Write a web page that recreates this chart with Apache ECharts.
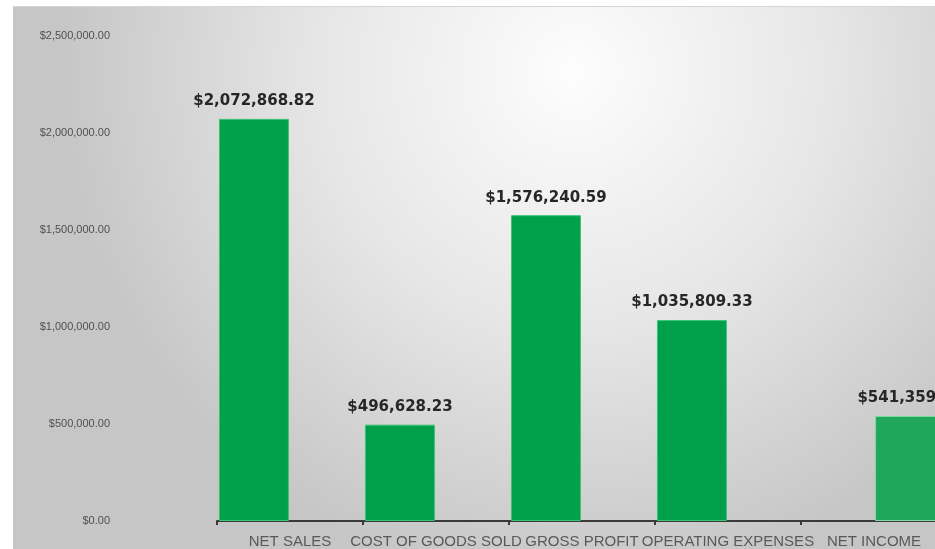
<!DOCTYPE html>
<html>
<head>
<meta charset="utf-8">
<script src="https://cdn.jsdelivr.net/npm/echarts@6/dist/echarts.min.js"></script>
<style>
  html, body { margin: 0; padding: 0; background: #ffffff; width: 935px; height: 549px; overflow: hidden; position: relative; }
  #chart { position: absolute; left: 13px; top: 6px; width: 935px; height: 543px; border-top: 1px solid #d6d6d6; box-sizing: border-box; }
</style>
</head>
<body>
<div id="chart"></div>
<script>
const categories = ['NET SALES', 'COST OF GOODS SOLD', 'GROSS PROFIT', 'OPERATING EXPENSES', 'NET INCOME'];
const mainValues = [2072868.82, 496628.23, 1576240.59, 1035809.33, null];
const netIncomeValues = [null, null, null, null, 541359.52];
const yTicks = [0, 500000, 1000000, 1500000, 2000000, 2500000];

function money(v) {
  return '$' + Number(v).toLocaleString('en-US', { minimumFractionDigits: 2, maximumFractionDigits: 2 });
}

const chart = echarts.init(document.getElementById('chart'));
const labelStyle = {
  show: true,
  position: 'top',
  distance: 10,
  fontFamily: 'DejaVu Sans',
  fontWeight: 'bold',
  fontSize: 15,
  color: '#262626',
  formatter: p => money(p.value)
};
chart.setOption({
  backgroundColor: {
    type: 'radial', x: 0.6, y: 0.12, r: 0.95,
    colorStops: [
      { offset: 0, color: '#fdfdfd' },
      { offset: 0.5, color: '#e6e6e6' },
      { offset: 1, color: '#c6c6c6' }
    ]
  },
  animation: false,
  grid: { left: 204, right: 1, top: 29, bottom: 27, containLabel: false },
  xAxis: {
    type: 'category',
    data: categories,
    axisLine: { show: true, lineStyle: { color: '#3a3a3a', width: 2 } },
    axisTick: { show: true, length: 4, lineStyle: { color: '#3a3a3a', width: 2 } },
    axisLabel: {
      interval: 0, margin: 13,
      fontFamily: 'Liberation Sans', fontSize: 15, color: '#595959'
    }
  },
  yAxis: {
    type: 'value',
    min: yTicks[0],
    max: yTicks[yTicks.length - 1],
    interval: yTicks[1] - yTicks[0],
    axisLine: { show: false },
    axisTick: { show: false },
    splitLine: { show: false },
    axisLabel: {
      margin: 107,
      fontFamily: 'Liberation Sans',
      fontSize: 11, color: '#505050',
      formatter: v => money(v)
    }
  },
  series: [
    {
      type: 'bar',
      data: mainValues,
      barWidth: 70,
      barGap: '3%',
      itemStyle: { color: '#00a04a', borderColor: '#3cc477', borderWidth: 1 },
      label: labelStyle
    },
    {
      type: 'bar',
      data: netIncomeValues,
      barWidth: 70,
      itemStyle: { color: '#21a75c', borderColor: '#7fd9a5', borderWidth: 1 },
      label: labelStyle
    }
  ]
});
</script>
</body>
</html>
